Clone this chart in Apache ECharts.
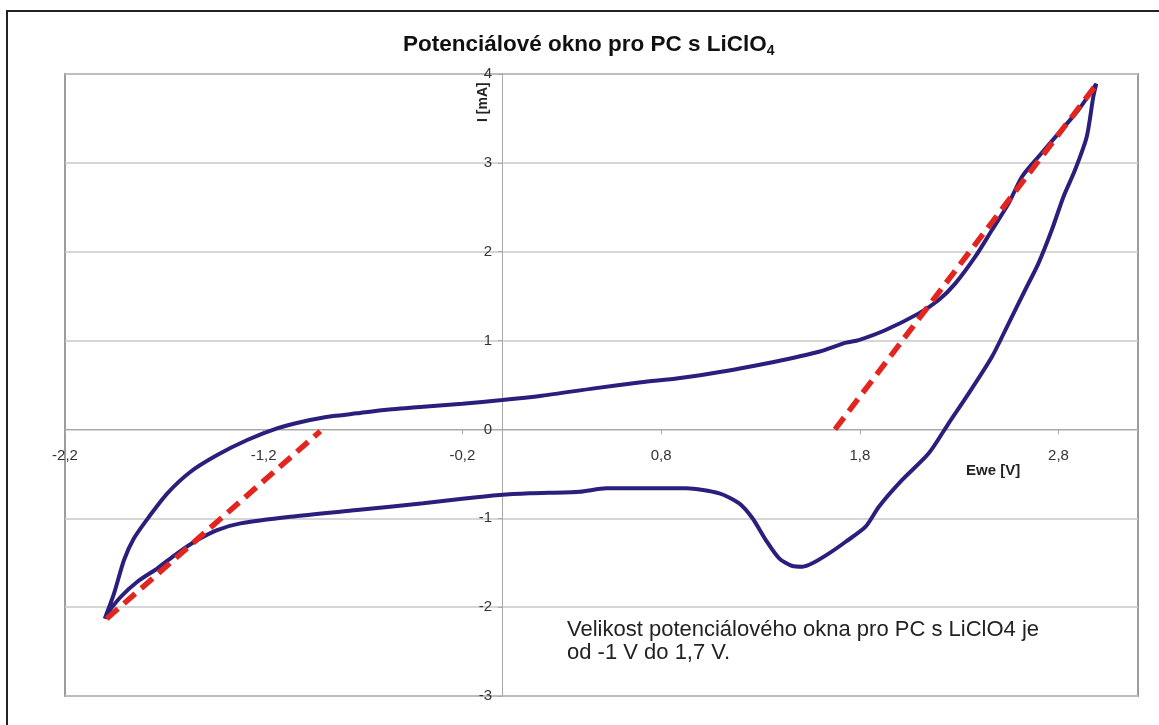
<!DOCTYPE html>
<html>
<head>
<meta charset="utf-8">
<script src="https://cdn.jsdelivr.net/npm/echarts@6/dist/echarts.min.js"></script>
<style>
html,body{margin:0;padding:0;background:#fff;}
#chart{width:1159px;height:725px;}
</style>
</head>
<body>
<div id="chart"></div>
<script>
// ---- data ----
var scanE = [-2.0,-1.953,-1.903,-1.853,-1.777,-1.685,-1.568,-1.434,-1.283,-1.133,-1.0,-0.85,-0.731,-0.593,-0.397,-0.2,0.0,0.2,0.463,0.7,0.886,1.05,1.203,1.414,1.594,1.731,1.795,1.93,2.097,2.197,2.281,2.381,2.465,2.549,2.616,2.699,2.8,2.9,2.99,
  2.975,2.942,2.883,2.825,2.766,2.699,2.632,2.549,2.465,2.348,2.247,2.147,2.013,1.896,1.829,1.729,1.645,1.561,1.511,1.461,1.394,1.327,1.26,1.193,1.093,0.926,0.725,0.524,0.39,0.139,-0.012,-0.2,-0.397,-0.731,-1.066,-1.317,-1.434,-1.534,-1.635,-1.735,-1.836,-1.919,-1.986,-2.0];
var scanI = [-2.13,-1.845,-1.47,-1.225,-0.982,-0.719,-0.476,-0.288,-0.119,0.012,0.09,0.15,0.181,0.218,0.255,0.29,0.331,0.38,0.462,0.53,0.575,0.63,0.688,0.781,0.874,0.976,1.006,1.119,1.306,1.456,1.644,1.944,2.244,2.544,2.844,3.069,3.332,3.594,3.89,
  3.744,3.294,2.919,2.619,2.244,1.869,1.569,1.194,0.818,0.406,0.069,-0.269,-0.569,-0.87,-1.095,-1.264,-1.395,-1.507,-1.545,-1.537,-1.451,-1.245,-1.0,-0.832,-0.719,-0.663,-0.663,-0.663,-0.701,-0.719,-0.738,-0.78,-0.832,-0.907,-0.982,-1.057,-1.132,-1.245,-1.394,-1.563,-1.714,-1.883,-2.07,-2.13];
var tangentLeftE = [-1.99, -0.915];
var tangentLeftI = [-2.13, -0.02];
var tangentRightE = [1.675, 2.99];
var tangentRightI = [0.0, 3.88];
var xTickValues = [-2.2, -1.2, -0.2, 0.8, 1.8, 2.8];
var xRange = [-2.2, 3.2];
var yRange = [-3, 4];
var titleText = 'Potenciálové okno pro PC s LiClO';
var titleSub = '4';
var xAxisName = 'Ewe [V]';
var yAxisName = 'I [mA]';
var noteLines = ['Velikost potenciálového okna pro PC s LiClO4 je', 'od -1 V do 1,7 V.'];

function pairs(xs, ys){ var out=[]; for (var i=0;i<xs.length;i++) out.push([xs[i], ys[i]]); return out; }

var W = 1159, H = 725;
var G = {left: 65, top: 74, right: 21, bottom: 29};
var gridW = W - G.left - G.right, gridH = H - G.top - G.bottom;
// place each axis where the other axis is zero (axis crossing at 0)
var xAxisOffset = -gridH * (0 - yRange[0]) / (yRange[1] - yRange[0]);
var yAxisOffset = -gridW * (0 - xRange[0]) / (xRange[1] - xRange[0]);

var FONT = '"Liberation Sans", Arial, sans-serif';
var chart = echarts.init(document.getElementById('chart'), null, {renderer:'canvas'});
chart.setOption({
  animation: false,
  backgroundColor: '#fff',
  title: {
    text: '{a|' + titleText + '}{b|' + titleSub + '}',
    left: 398, top: 27,
    textStyle: {
      rich: {
        a: {fontFamily: FONT, fontWeight: 'bold', fontSize: 22.5, color: '#111', lineHeight: 26},
        b: {fontFamily: FONT, fontWeight: 'bold', fontSize: 14, color: '#111', lineHeight: 14, verticalAlign: 'bottom', padding: [11,0,0,0]}
      }
    }
  },
  grid: {left: G.left, top: G.top, right: G.right, bottom: G.bottom, show: true, borderColor: '#9c9c9c', borderWidth: 2, containLabel: false, outerBoundsMode: 'none'},
  xAxis: {
    type: 'value', min: xRange[0], max: xRange[1], position: 'bottom', offset: xAxisOffset,
    axisLine: {onZero: false, lineStyle: {color: '#a8a8a8', width: 1}},
    axisTick: {show: true, length: 5, customValues: xTickValues, lineStyle: {color: '#a8a8a8'}},
    axisLabel: {customValues: xTickValues, margin: 19, fontFamily: FONT, fontSize: 15, color: '#333',
      formatter: function(v){ return (Math.round(v*10)/10).toFixed(1).replace('.', ','); }},
    splitLine: {show: false}
  },
  yAxis: {
    type: 'value', min: yRange[0], max: yRange[1], interval: 1, position: 'left', offset: yAxisOffset,
    axisLine: {onZero: false, lineStyle: {color: '#a8a8a8', width: 1}},
    axisTick: {show: true, length: 4, lineStyle: {color: '#a8a8a8'}},
    axisLabel: {margin: 10, fontFamily: FONT, fontSize: 15, color: '#333'},
    splitLine: {show: true, lineStyle: {color: '#c8c8c8', width: 1.5}}
  },
  series: [
    {type: 'line', data: pairs(scanE, scanI), showSymbol: false, smooth: 0.25,
      lineStyle: {color: '#2a1f7c', width: 4}, z: 2},
    {type: 'line', data: pairs(tangentLeftE, tangentLeftI), showSymbol: false,
      lineStyle: {color: '#e2261f', width: 5.5, type: [15, 8], cap: 'butt'}, z: 3},
    {type: 'line', data: pairs(tangentRightE, tangentRightI), showSymbol: false,
      lineStyle: {color: '#e2261f', width: 5.5, type: [15, 8], cap: 'butt'}, z: 3}
  ],
  graphic: [
    {type: 'rect', shape: {x: 7, y: 11, width: 1300, height: 900}, style: {fill: 'none', stroke: '#222', lineWidth: 2}, silent: true},
    {type: 'text', x: 966, y: 463, style: {text: xAxisName, font: 'bold 15px ' + FONT, fill: '#222'}},
    {type: 'text', x: 476, y: 122, rotation: Math.PI/2, style: {text: yAxisName, font: 'bold 14px ' + FONT, fill: '#222'}},
    {type: 'text', x: 567, y: 618, style: {text: noteLines.join('\n'), font: '22px ' + FONT, lineHeight: 23, fill: '#222'}}
  ]
});
</script>
</body>
</html>
